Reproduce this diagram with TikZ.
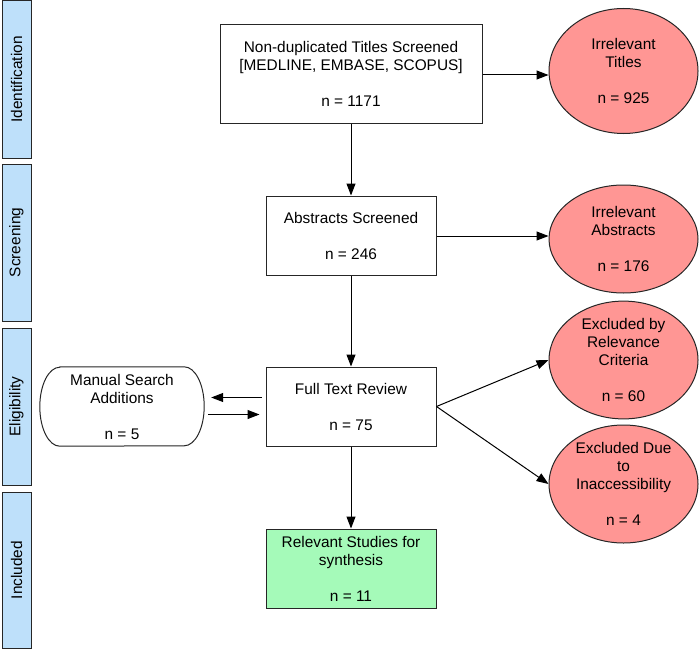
\documentclass[tikz,border=0pt]{standalone}
\usepackage{fontspec}
\setmainfont{Liberation Sans}
\usetikzlibrary{shapes.geometric,arrows.meta,calc}
\definecolor{barblue}{RGB}{190,224,250}
\definecolor{salmon}{RGB}{255,150,148}
\definecolor{lightgreen}{RGB}{165,250,185}
\begin{document}
\begin{tikzpicture}[x=1pt,y=-1pt,
  every node/.style={font=\fontsize{15.4}{18}\selectfont, align=center, inner sep=0pt, text=black},
  sidebar/.style={draw=black!85, line width=1pt, fill=barblue, minimum width=29pt},
  stepbox/.style={draw=black!85, line width=1pt, fill=white},
  oval/.style={ellipse, draw=black!85, line width=1pt, fill=salmon, minimum width=149pt},
  arr/.style={draw=black, line width=1pt, -{Triangle[length=12pt,width=9pt]}}]
\useasboundingbox (0,0) rectangle (700,650);
% side bars
\node[sidebar, minimum height=157pt] (s1) at (16.5,79.5) {\rotatebox{90}{Identification}};
\node[sidebar, minimum height=157pt] (s2) at (16.5,242.5) {\rotatebox{90}{Screening}};
\node[sidebar, minimum height=157pt] (s3) at (16.5,406.5) {\rotatebox{90}{Eligibility}};
\node[sidebar, minimum height=156pt] (s4) at (16.5,570) {\rotatebox{90}{Included}};
% boxes
\node[stepbox, minimum width=262pt, minimum height=98pt] (b1) at (351,74) {Non-duplicated Titles Screened\\{}[MEDLINE, EMBASE, SCOPUS]\\[18pt]n = 1171};
\node[stepbox, minimum width=170pt, minimum height=79pt] (b2) at (351,235.5) {Abstracts Screened\\[18pt]n = 246};
\node[stepbox, minimum width=170pt, minimum height=79pt] (b3) at (351,406.5) {Full Text Review\\[18pt]n = 75};
\node[stepbox, fill=lightgreen, minimum width=170pt, minimum height=79pt] (b4) at (351,568.5) {Relevant Studies for\\synthesis\\[18pt]n = 11};
% manual search (terminal shape with elliptic ends)
\node[minimum width=164pt, minimum height=79pt] (m) at (122,406.5) {};
\draw[line width=1pt, draw=black!85, fill=white]
  ([xshift=20pt]m.north west) -- ([xshift=-20pt]m.north east)
  arc[start angle=-90, end angle=90, x radius=20, y radius=39.5]
  -- ([xshift=20pt]m.south west)
  arc[start angle=90, end angle=270, x radius=20, y radius=39.5] -- cycle;
\node at (m.center) {Manual Search\\Additions\\[18pt]n = 5};
% ellipses
\node[oval, minimum height=125pt] (e1) at (623.5,71) {Irrelevant\\Titles\\[18pt]n = 925};
\node[oval, minimum height=108pt] (e2) at (623.5,239) {Irrelevant\\Abstracts\\[18pt]n = 176};
\node[oval, minimum height=117pt] (e3) at (623.5,360) {Excluded by\\Relevance\\Criteria\\[18pt]n = 60};
\node[oval, minimum height=118pt] (e4) at (623.5,484) {Excluded Due\\to\\Inaccessibility\\[18pt]n = 4};
% connectors
\draw[arr] (b1.east |- 0,75) -- (e1.west |- 0,75);
\draw[arr] (b2.east |- 0,236) -- (e2.west |- 0,236);
\draw[arr] (b1.south) -- (b2.north);
\draw[arr] (b2.south) -- (b3.north);
\draw[arr] (b3.south) -- (b4.north);
\draw[arr] (b3.east) -- (e3.west);
\draw[arr] (b3.east) -- (e4.west);
\draw[arr, shorten <=4pt, shorten >=7pt] ([yshift=9pt]b3.west) -- ([yshift=9pt]m.east);
\draw[arr, shorten <=4pt, shorten >=6pt] ([yshift=-8pt]m.east) -- ([yshift=-8pt]b3.west);
\end{tikzpicture}
\end{document}
